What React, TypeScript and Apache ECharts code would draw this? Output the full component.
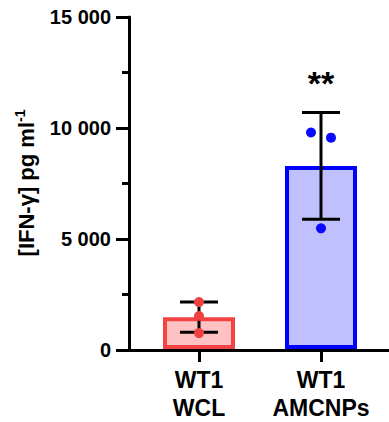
import React, { useEffect, useRef } from 'react';
import * as echarts from 'echarts';

// ---- data ----
const categories = ['WT1\nWCL', 'WT1\nAMCNPs'];
const means = [1440, 8270];
const sds = [680, 2410];
const wclPoints = [2120, 1490, 720];
const amcnpPoints = [9780, 9550, 5450];
const significance = ['', '**'];
const yMin = 0;
const yMax = 15000;
const yInterval = 5000;

// ---- style ----
const FONT = '"Liberation Sans", Arial, Helvetica, sans-serif';
const BAR_FILL = ['#ffc2c2', '#c0c0ff'];
const BAR_EDGE = ['#f24444', '#0000ff'];
const DOT = ['#f04040', '#0a0aff'];
const JITTER_PX = [
  [0, 0, 0],
  [-10, 10, 0],
];

const fmt = (v: number) => String(v).replace(/\B(?=(\d{3})+(?!\d))/g, ' ');

export default function App() {
  const ref = useRef<HTMLDivElement>(null);
  useEffect(() => {
    if (!ref.current) return;
    const chart = echarts.init(ref.current, undefined, { renderer: 'svg' });
    const pointData: number[][] = [
      ...wclPoints.map((v, i) => [0, v, i]),
      ...amcnpPoints.map((v, i) => [1, v, i]),
    ];
    chart.setOption({
      animation: false,
      grid: [
        { left: 129, right: 0, top: 17, bottom: 72 },
        { left: 138, right: 7, top: 17, bottom: 72 },
      ],
      xAxis: [
        {
          type: 'value',
          gridIndex: 0,
          min: 0,
          max: 1,
          axisLine: { show: true, lineStyle: { color: '#000', width: 3, opacity: 1 } },
          axisTick: { show: false },
          axisLabel: { show: false },
          splitLine: { show: false },
        },
        {
          type: 'category',
          gridIndex: 1,
          data: categories,
          axisLine: { show: false },
          axisTick: { show: true, interval: 0, alignWithLabel: true, length: 13, lineStyle: { color: '#000', width: 3 } },
          axisLabel: {
            interval: 0,
            hideOverlap: false,
            color: '#000',
            fontFamily: FONT,
            fontWeight: 'bold',
            fontSize: 23,
            lineHeight: 28,
            margin: 17,
          },
          splitLine: { show: false },
        },
      ],
      yAxis: [
        {
          type: 'value',
          gridIndex: 0,
          min: yMin,
          max: yMax,
          interval: yInterval,
          axisLine: { show: true, lineStyle: { color: '#000', width: 3, opacity: 1 } },
          axisTick: { show: true, length: 13, lineStyle: { color: '#000', width: 3, opacity: 1 } },
          minorTick: { show: true, splitNumber: 2, length: 7, lineStyle: { color: '#000', width: 3, opacity: 1 } },
          axisLabel: {
            color: '#000',
            fontFamily: FONT,
            fontWeight: 'bold',
            fontSize: 20,
            margin: 18,
            formatter: (v: number) => fmt(v),
          },
          splitLine: { show: false },
          minorSplitLine: { show: false },
        },
        {
          type: 'value',
          gridIndex: 1,
          min: yMin,
          max: yMax,
          show: false,
          splitLine: { show: false },
        },
      ],
      series: [
        {
          type: 'bar',
          xAxisIndex: 1,
          yAxisIndex: 1,
          barWidth: 72,
          z: -1,
          data: means.map((m, i) => ({
            value: m,
            itemStyle: { color: BAR_FILL[i], borderColor: BAR_EDGE[i], borderWidth: 4 },
          })),
        },
        {
          type: 'custom',
          xAxisIndex: 1,
          yAxisIndex: 1,
          z: 3,
          data: means.map((m, i) => [i, m, sds[i]]),
          renderItem: (params: any, api: any) => {
            const i = api.value(0);
            const m = api.value(1);
            const s = api.value(2);
            const top = api.coord([i, m + s]);
            const bot = api.coord([i, m - s]);
            const half = 19;
            const ls = { stroke: '#000', lineWidth: 3 };
            const children: any[] = [
              { type: 'line', shape: { x1: top[0], y1: top[1], x2: bot[0], y2: bot[1] }, style: ls },
              { type: 'line', shape: { x1: top[0] - half, y1: top[1], x2: top[0] + half, y2: top[1] }, style: ls },
              { type: 'line', shape: { x1: bot[0] - half, y1: bot[1], x2: bot[0] + half, y2: bot[1] }, style: ls },
            ];
            const sig = significance[i];
            if (sig) {
              children.push({
                type: 'text',
                x: top[0],
                y: top[1] - 13,
                style: {
                  text: sig,
                  fill: '#000',
                  font: `bold 34px ${FONT}`,
                  align: 'center',
                  verticalAlign: 'bottom',
                },
              });
            }
            return { type: 'group', children };
          },
        },
        {
          type: 'custom',
          xAxisIndex: 1,
          yAxisIndex: 1,
          z: 4,
          data: pointData,
          renderItem: (params: any, api: any) => {
            const c = api.value(0);
            const v = api.value(1);
            const k = api.value(2);
            const p = api.coord([c, v]);
            return {
              type: 'circle',
              shape: { cx: p[0] + JITTER_PX[c][k], cy: p[1], r: 5 },
              style: { fill: DOT[c] },
            };
          },
        },
      ],
      graphic: [
        {
          type: 'text',
          x: 26,
          y: 183,
          rotation: Math.PI / 2,
          style: {
            text: '{a|[IFN-γ] pg ml}{b|-1}',
            align: 'center',
            verticalAlign: 'middle',
            rich: {
              a: { fontFamily: FONT, fontWeight: 'bold', fontSize: 22, fill: '#000', color: '#000', lineHeight: 26 },
              b: { fontFamily: FONT, fontWeight: 'bold', fontSize: 14, fill: '#000', color: '#000', verticalAlign: 'top', lineHeight: 26, padding: [0, 0, 10, 0] },
            },
          },
        },
      ],
    });
    return () => chart.dispose();
  }, []);
  return (
    <div
      ref={ref}
      style={{ position: 'absolute', left: 0, top: 0, width: 389, height: 422 }}
    />
  );
}
